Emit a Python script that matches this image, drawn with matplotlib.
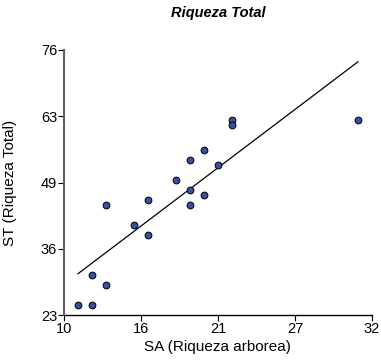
import numpy as np
import matplotlib.pyplot as plt

plt.rcParams['font.family'] = ['Liberation Sans', 'DejaVu Sans']

# SA (Riqueza arborea) vs ST (Riqueza Total)
sa = [11, 12, 12, 13, 13, 15, 16, 16, 18, 19, 19, 19, 20, 20, 21, 22, 22, 31]
st = [25, 25, 31, 29, 45, 41, 46, 39, 50, 48, 45, 54, 47, 56, 53, 62, 61, 62]

x_ticks = [10, 15.5, 21, 26.5, 32]
x_labels = ['10', '16', '21', '27', '32']
y_ticks = [23, 36.25, 49.5, 62.75, 76]
y_labels = ['23', '36', '49', '63', '76']

fig = plt.figure(figsize=(3.81, 3.61), dpi=100)
ax = fig.add_axes([0.168, 0.1274, 0.808, 0.7341])

# least squares line through the fitted values
slope, icpt = np.polyfit(sa, st, 1)
xs = np.sort(np.unique(sa))
ax.plot(xs, slope * xs + icpt, color='black', lw=0.9, zorder=2)

ax.scatter(sa, st, s=24, color='#3b4f9c', edgecolor='black', linewidth=0.7, zorder=3)

ax.set_xlim(10, 32)
ax.set_ylim(23, 76)
ax.set_xticks(x_ticks)
ax.set_xticklabels(x_labels)
ax.set_yticks(y_ticks)
ax.set_yticklabels(y_labels)

for s in ['top', 'right']:
    ax.spines[s].set_visible(False)
ax.spines['left'].set_color('#606060')
ax.spines['left'].set_linewidth(1.5)
ax.spines['bottom'].set_linewidth(1.0)
ax.tick_params(axis='both', direction='out', length=4, width=0.8,
               labelsize=10.5, pad=1, colors='black')

ax.set_title('Riqueza Total', fontsize=10.5, fontweight='bold', fontstyle='italic', pad=24)
ax.set_xlabel('SA (Riqueza arborea)', fontsize=11, labelpad=3)
ax.set_ylabel('ST (Riqueza Total)', fontsize=11, labelpad=17)

fig.savefig('out.png', dpi=100)
